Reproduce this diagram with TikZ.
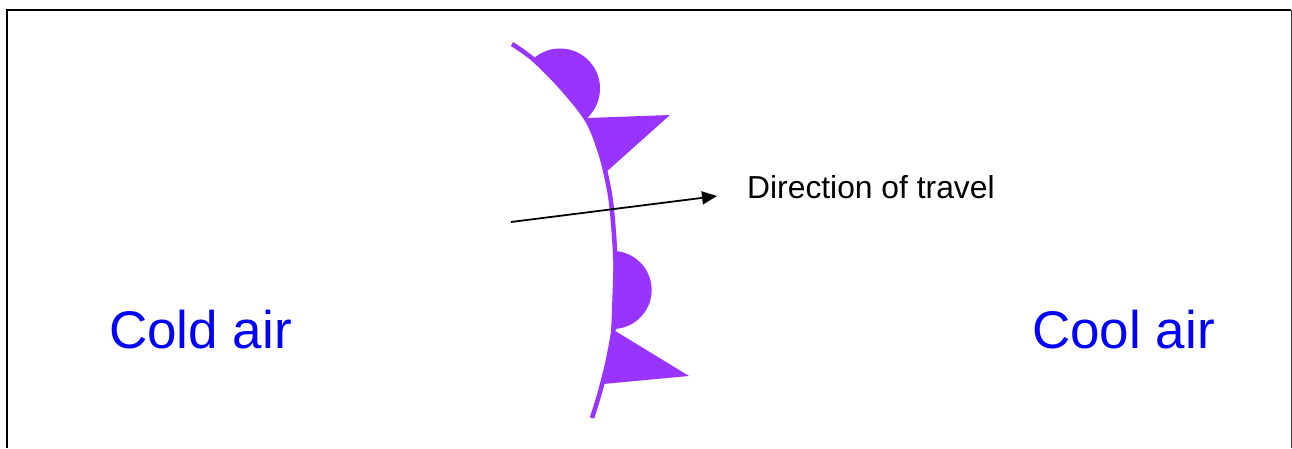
\documentclass[tikz,border=0pt]{standalone}
\usepackage{fontspec}
\setmainfont{Liberation Sans}
\usepackage{xcolor}
\usetikzlibrary{arrows.meta,positioning}

\begin{document}
\begin{tikzpicture}[x=1pt,y=1pt,>=Stealth]
    \definecolor{cFront}{RGB}{153,51,255}\definecolor{cAir}{RGB}{0,0,255}
    \tikzset{airlabel/.style={anchor=base west,inner sep=0pt,text=cAir,font=\fontsize{53}{60}\selectfont},
             frontsym/.style={fill=cFront,draw=none}}
    \useasboundingbox (0,0) rectangle (1292,448);
    % frame
    \draw[line width=2.6pt] (7,0) -- (7,438) -- (1291,438);
    \draw[line width=1pt,black!75] (1291,438) -- (1291,0);
    % symbols on the front
    \fill[frontsym] (533,389) arc[start angle=132.5,end angle=-47.5,radius=40] -- cycle;
    \fill[frontsym] (587,330) -- (670,333) -- (605,275) -- cycle;
    \fill[frontsym] (614,197) arc[start angle=88,end angle=-92,radius=39] -- cycle;
    \fill[frontsym] (612,119) -- (689,72) -- (603,64) -- cycle;
    % the front itself
    \draw[cFront,line width=4.5pt,smooth] plot coordinates {(512,404) (533,389) (560,362) (587,328)
        (601,293) (610,253) (614,213) (616,168) (614,123) (608,88) (600,56) (592,30)};
    % direction of travel
    \coordinate (tail) at (511,226);
    \coordinate (head) at (717,252);
    \draw[-{Triangle[length=15pt,width=13pt]},line width=1.8pt] (tail) -- (head);
    \node[anchor=base west,inner sep=0pt,font=\fontsize{31.8}{36}\selectfont] (dir) at (747,250) {Direction of travel};
    % air masses
    \node[airlabel] (cold) at (109,100) {Cold air};
    \node[airlabel] (cool) at (1032,100) {Cool air};
\end{tikzpicture}
\end{document}
